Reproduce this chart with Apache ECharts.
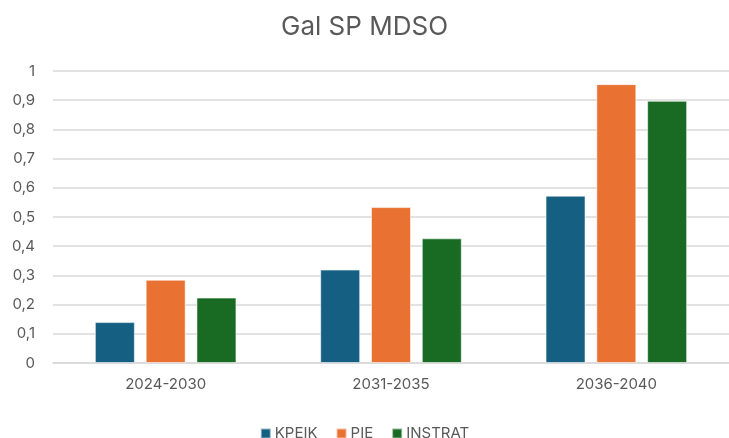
<!DOCTYPE html>
<html>
<head>
<meta charset="utf-8">
<script src="https://cdn.jsdelivr.net/npm/echarts@6/dist/echarts.min.js"></script>
<style>
  html, body { margin: 0; padding: 0; background: #fff; }
  #chart { width: 729px; height: 438px; }
</style>
</head>
<body>
<div id="chart"></div>
<script>
// Periods on the category axis
const periods = ['2024-2030', '2031-2035', '2036-2040'];
// Series names and values per period
const seriesNames = ['KPEIK', 'PIE', 'INSTRAT'];
const kpeik = [0.14, 0.32, 0.573];
const pie = [0.285, 0.534, 0.955];
const instrat = [0.224, 0.427, 0.898];
const colors = ['#156082', '#E97132', '#196B24'];

const font = 'Inter, "Open Sans", sans-serif';
const chart = echarts.init(document.getElementById('chart'));

function bar(name, data, color) {
  return {
    name: name,
    type: 'bar',
    data: data,
    barWidth: 40,
    barGap: '27%',
    itemStyle: { color: color, borderColor: 'rgba(255,255,255,0.55)', borderWidth: 1 }
  };
}

chart.setOption({
  animation: false,
  title: {
    text: 'Gal SP MDSO',
    left: 'center',
    top: 9,
    textStyle: { fontFamily: font, fontSize: 26, fontWeight: 'normal', color: '#595959' }
  },
  legend: {
    left: 'center',
    top: 421,
    itemWidth: 10,
    itemHeight: 10,
    itemGap: 18,
    icon: 'rect',
    textStyle: { fontFamily: font, fontSize: 15, color: '#595959', padding: [0, 0, 0, -1] },
    data: seriesNames
  },
  grid: { left: 53, top: 71, width: 683, height: 292, containLabel: false },
  xAxis: {
    type: 'category',
    data: periods,
    axisLine: { lineStyle: { color: '#d9d9d9', width: 1.5 } },
    axisTick: { show: false },
    axisLabel: { fontFamily: font, fontSize: 15, color: '#595959', margin: 14 }
  },
  yAxis: {
    type: 'value',
    min: 0,
    max: 1,
    interval: 0.1,
    axisLine: { show: false },
    axisTick: { show: false },
    splitLine: { lineStyle: { color: '#d9d9d9', width: 1.5 } },
    axisLabel: {
      fontFamily: font, fontSize: 15, color: '#595959', margin: 18,
      formatter: v => String(Math.round(v * 10) / 10).replace('.', ',')
    }
  },
  series: [
    bar(seriesNames[0], kpeik, colors[0]),
    bar(seriesNames[1], pie, colors[1]),
    bar(seriesNames[2], instrat, colors[2])
  ]
});
</script>
</body>
</html>
